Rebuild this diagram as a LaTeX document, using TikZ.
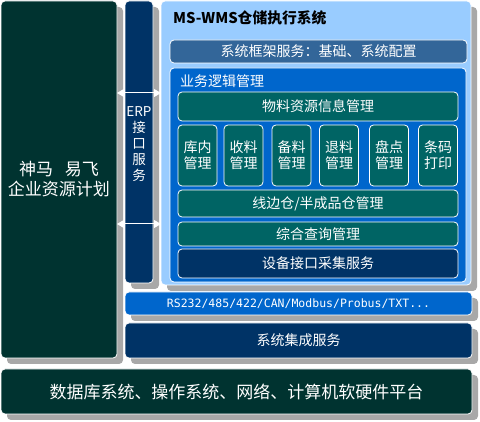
\documentclass[tikz,border=0pt]{standalone}
\usepackage{fontspec}
\setmainfont{Noto Sans CJK SC}
\newfontfamily\monofont{DejaVu Sans Mono}
\usepackage{tikz}
\usetikzlibrary{arrows.meta}
\usetikzlibrary{shadows}
\usetikzlibrary{positioning}

\definecolor{erpgreen}{HTML}{003330}
\definecolor{navyblue}{HTML}{003366}
\definecolor{wmsblue}{HTML}{99CCFF}
\definecolor{frameblue}{HTML}{336699}
\definecolor{logicblue}{HTML}{0066CC}
\definecolor{tealbox}{HTML}{006464}
\definecolor{shadowgray}{HTML}{A8A8A8}

\begin{document}
\begin{tikzpicture}[x=1pt,y=-1pt,>={Triangle[length=7pt,width=8pt]}]
        \tikzset{box/.style={draw=white, line width=0.8pt, rectangle, rounded corners=4pt, inner sep=0pt, outer sep=0pt,
                    text=white, align=center, font=\fontsize{14}{16}\selectfont},
        sbox/.style={box, drop shadow={shadow xshift=6pt, shadow yshift=-6pt, fill=shadowgray, opacity=1}},
        modbox/.style={box, fill=tealbox, minimum width=39pt, minimum height=61pt},
        rowbox/.style={box, minimum width=280pt},
        biarrow/.style={<->, draw=white, line width=1pt},
        }
        \useasboundingbox (0,0) rectangle (480,422);
        \node [sbox, fill=erpgreen, minimum width=116pt, minimum height=357pt, font=\fontsize{17}{20}\selectfont] (erp) at (59,179.5) {神马\hspace{0.7em}易飞\\企业资源计划};
        \node [sbox, fill=navyblue, minimum width=28pt, minimum height=282pt] (iface) at (139,142) {};
        \node [sbox, fill=wmsblue, minimum width=310pt, minimum height=284pt] (wms) at (316,143) {};
        \node [anchor=west, inner sep=0pt, font=\fontsize{14.8}{17}\selectfont\bfseries] (wmstitle) at (173,18) {MS-WMS仓储执行系统};
        \node [box, fill=frameblue, minimum width=297pt, minimum height=23pt] (frame) at (318.5,51.5) {系统框架服务：基础、系统配置};
        \node [box, fill=logicblue, minimum width=296pt, minimum height=214pt] (logic) at (318,175) {};
        \node [anchor=west, inner sep=0pt, text=white, font=\fontsize{14}{16}\selectfont] (logictitle) at (180,81) {业务逻辑管理};
        \node [rowbox, fill=tealbox, minimum height=29pt] (material) at (318,106.5) {物料资源信息管理};
        \node [modbox] (stock) at (197.5,155.5) {库内\\管理};
        \node [modbox] (receive) at (243.5,155.5) {收料\\管理};
        \node [modbox] (prepare) at (291.5,155.5) {备料\\管理};
        \node [modbox] (retreat) at (339,155.5) {退料\\管理};
        \node [modbox] (count) at (389,155.5) {盘点\\管理};
        \node [modbox] (barcode) at (438,155.5) {条码\\打印};
        \node [rowbox, fill=tealbox, minimum height=27pt] (lineside) at (318,203.5) {线边仓/半成品仓管理};
        \node [rowbox, fill=tealbox, minimum height=24pt] (query) at (318,234) {综合查询管理};
        \node [rowbox, fill=navyblue, minimum height=29pt] (device) at (318,263.5) {设备接口采集服务};
        \node [sbox, fill=logicblue, minimum width=347pt, minimum height=23pt, font=\fontsize{11.5}{14}\monofont] (bus) at (298.5,303.5) {RS232/485/422/CAN/Modbus/Probus/TXT...};
        \node [sbox, fill=navyblue, minimum width=347pt, minimum height=35pt] (integ) at (298.5,340.5) {系统集成服务};
        \node [sbox, fill=erpgreen, minimum width=471pt, minimum height=45pt, font=\fontsize{17}{20}\selectfont] (base) at (236.5,391.5) {数据库系统、操作系统、网络、计算机软硬件平台};
        \node [box, draw=none, fill=none, align=center, font=\fontsize{13.5}{15.8}\selectfont] (ifacetext) at (139,144) {ERP\\接\\口\\服\\务};
        \coordinate (upper) at (139,93);  %% heights of the two links
        \coordinate (lower) at (139,224);

%% links
        \draw[biarrow] (erp.east |- upper) -- (wms.west |- upper);
        \draw[biarrow] (erp.east |- lower) -- (wms.west |- lower);
\end{tikzpicture}
\end{document}
